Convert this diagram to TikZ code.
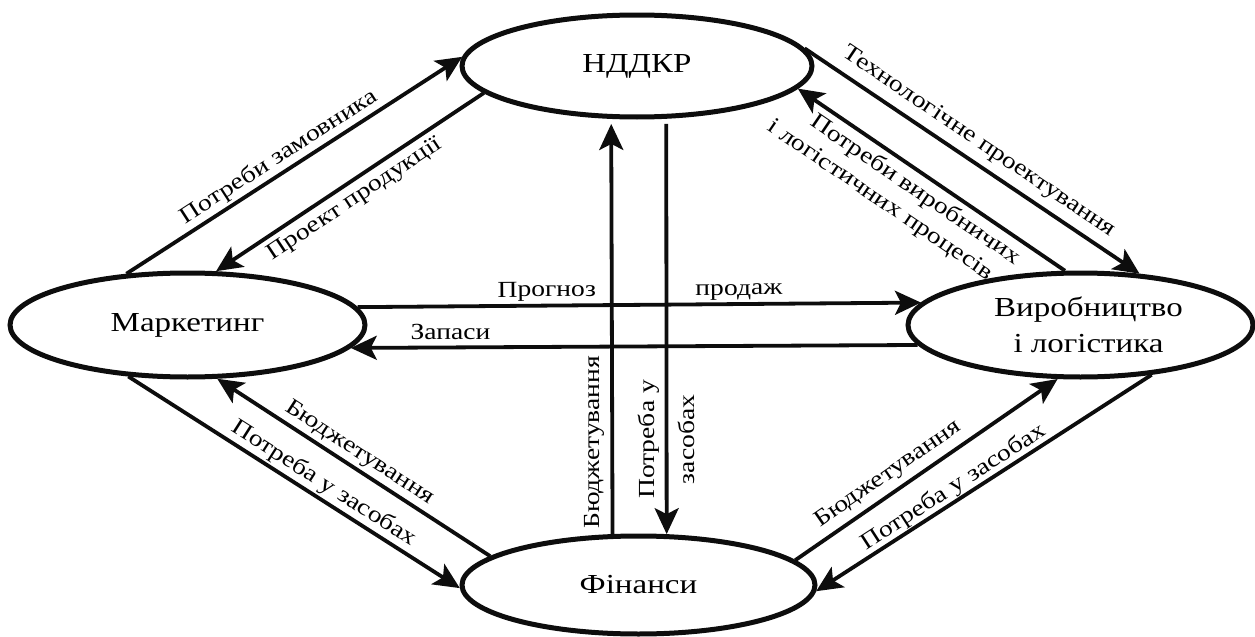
\documentclass[tikz,border=0pt]{standalone}
\usepackage{fontspec}
\setmainfont{Liberation Serif}[FakeStretch=1.2]
\usetikzlibrary{arrows.meta,shapes.geometric}
\begin{document}
\begin{tikzpicture}[x=0.5pt,y=-0.5pt,
  box/.style={ellipse, draw=black!95, line width=2.5pt, inner sep=0pt,
    font=\fontsize{13.75}{18}\selectfont, align=center},
  arr/.style={draw=black!95, line width=1.9pt,
    -{Stealth[length=13pt,width=12pt,inset=3pt]}},
  lbl/.style={font=\fontsize{11.5}{13.8}\selectfont, inner sep=0pt, sloped},
]
\useasboundingbox (0,0) rectangle (1255,637);

\node[box, minimum width=175pt, minimum height=51pt] (N) at (637,66) {НДДКР};
\node[box, minimum width=177.5pt, minimum height=52pt] (M) at (187.5,325) {Маркетинг};
\node[box, minimum width=172.5pt, minimum height=52pt] (V) at (1080.5,325)
  {\hspace*{8pt}Виробництво\\\hspace*{8pt}і логістика};
\node[box, minimum width=176.5pt, minimum height=49pt] (F) at (638.5,585) {Фінанси};

% Marketing <-> R&D
\draw[arr] (M.140) -- node[lbl, above=1.3pt, pos=0.48] {Потреби замовника} (N.177);
\draw[arr] (N.190) -- node[lbl, below=2.6pt, pos=0.518] {Проект продукції} (M.62);

% R&D <-> Production
\draw[arr] (N.6) -- node[lbl, above=3.8pt, pos=0.487] {Технологічне проектування} (V.41);
\draw[arr] (V.106) --
  node[lbl, below=2.6pt, pos=0.523] {Потреби виробничих}
  node[lbl, below=17.3pt, pos=0.595] {і логістичних процесів} (N.352);

% Marketing <-> Production
\draw[arr] (M.6.959) --
  node[lbl, above=1.1pt, pos=0.336] {Прогноз}
  node[lbl, above=1.1pt, pos=0.677] {продаж} (V.172.841);
\draw[arr] (V.187.58) -- node[lbl, above=3pt, pos=0.824] {Запаси} (M.352.631);

% Finance <-> R&D
\draw[arr, shorten >=2.5pt] (F.117.74) --
  node[lbl, allow upside down, above=3pt, pos=0.221] {Бюджетування} (N.244.59);
\draw[arr, shorten <=2.5pt] (N.299.09) --
  node[font=\fontsize{11.5}{20}\selectfont, inner sep=0pt, rotate=90, align=center, pos=0.772]
  {Потреба у\\засобах} (F.61.32);

% Finance <-> Marketing
\draw[arr] (F.169.6) -- node[lbl, above=1.6pt, pos=0.509] {Бюджетування} (M.299.5);
\draw[arr] (M.221.9) -- node[lbl, above=1.2pt, pos=0.566] {Потреба у засобах} (F.181.7);

% Finance <-> Production
\draw[arr] (F.9.9) -- node[lbl, above=2.8pt, pos=0.3925] {Бюджетування} (V.247.9);
\draw[arr] (V.325.4) -- node[lbl, above=0pt, pos=0.57] {Потреба у засобах} (F.358.8);
\end{tikzpicture}
\end{document}
